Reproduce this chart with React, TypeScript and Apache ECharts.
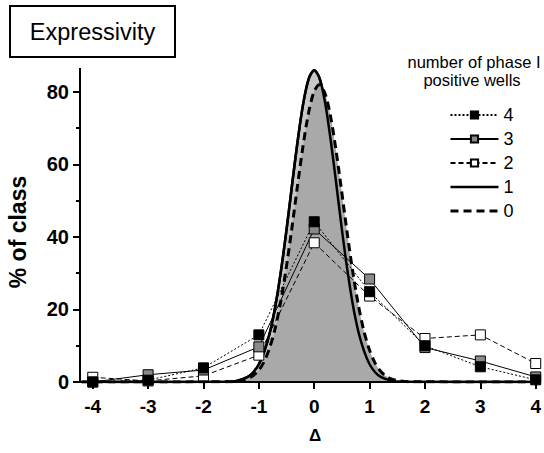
import React, { useEffect, useRef } from "react";
import * as echarts from "echarts";

const deltas = [-4, -3, -2, -1, 0, 1, 2, 3, 4];
const wells4 = [0, 0.5, 3.9, 13, 44.2, 24.9, 10, 4.2, 0.6];
const wells3 = [0, 2, 3.3, 9.7, 42.2, 28.4, 9.5, 5.8, 1.4];
const wells2 = [1.3, 0.3, 1.7, 7.4, 38.4, 23.7, 12, 13, 5.1];

const curve1X = [-4.2, -1.6, -1.4, -1.2, -1.1, -1.0, -0.9, -0.8, -0.7, -0.6, -0.5, -0.4, -0.3, -0.2, -0.1, 0, 0.1, 0.2, 0.3, 0.4, 0.5, 0.6, 0.7, 0.8, 0.9, 1.0, 1.1, 1.2, 1.4, 1.6, 4];
const curve1Y = [0, 0.06, 0.31, 1.4, 2.7, 4.9, 8.5, 13.7, 21.1, 30.7, 42, 54.4, 66.4, 76.7, 83.6, 86, 83.6, 76.7, 66.4, 54.4, 42, 30.7, 21.1, 13.7, 8.5, 4.9, 2.7, 1.4, 0.31, 0.06, 0];
const curve0X = [-4.2, -1.51, -1.31, -1.21, -1.11, -1.01, -0.91, -0.81, -0.71, -0.61, -0.51, -0.41, -0.31, -0.21, -0.11, -0.01, 0.09, 0.19, 0.29, 0.39, 0.49, 0.59, 0.69, 0.79, 0.89, 0.99, 1.09, 1.19, 1.29, 1.39, 1.49, 1.69, 4];
const curve0Y = [0, 0.08, 0.41, 0.85, 1.7, 3.1, 5.5, 9.2, 14.5, 21.8, 31.0, 41.7, 53.2, 64.3, 73.6, 79.8, 82, 79.8, 73.6, 64.3, 53.2, 41.7, 31.0, 21.8, 14.5, 9.2, 5.5, 3.1, 1.7, 0.85, 0.41, 0.08, 0];

const xTicks = [-4, -3, -2, -1, 0, 1, 2, 3, 4];
const yTicks = [0, 20, 40, 60, 80];
const yMinorTicks = [10, 30, 50, 70];

const X_MIN = -4.23;
const X_MAX = 4.05;
const Y_MIN = 0;
const Y_MAX = 86.6;

const FONT = "'Liberation Sans', Arial, Helvetica, sans-serif";

const zip = (xs: number[], ys: number[]) => xs.map((x, i) => [x, ys[i]]);

export default function App() {
  const ref = useRef<HTMLDivElement>(null);
  useEffect(() => {
    if (!ref.current) return;
    const chart = echarts.init(ref.current, undefined, { renderer: "svg" });
    const squareSeries = (name: string, ys: number[], fill: string, type: any) => ({
      name,
      type: "line",
      data: zip(deltas, ys),
      symbol: "rect",
      symbolSize: 10,
      z: 5,
      lineStyle: { color: "#000", width: 1, type },
      itemStyle: { color: fill, borderColor: "#000", borderWidth: 1 },
      emphasis: { disabled: true },
    });
    const curveSeries = (name: string, xs: number[], ys: number[], width: number, type: any, fill: string, z: number) => ({
      name,
      type: "line",
      data: zip(xs, ys),
      symbol: "none",
      smooth: 0.3,
      z,
      lineStyle: { color: "#000", width, type },
      itemStyle: { color: "#000" },
      areaStyle: { color: fill, opacity: 1 },
      emphasis: { disabled: true },
    });
    const curveLegend = (name: string, width: number, type: any) => ({
      name,
      itemStyle: { color: "rgba(0,0,0,0)", borderColor: "rgba(0,0,0,0)", borderWidth: 0 },
      lineStyle: { color: "#000", width, type, opacity: 1 },
    });
    const tickAxis = (values: number[], length: number) => ({
      type: "value",
      min: Y_MIN,
      max: Y_MAX,
      position: "left",
      axisLine: { show: false, onZero: false },
      axisTick: { show: true, customValues: values, length, lineStyle: { color: "#000", width: 2 } },
      axisLabel: { show: false },
      splitLine: { show: false },
    });
    chart.setOption({
      animation: false,
      backgroundColor: "#fff",
      grid: { left: 80, right: 4.5, top: 68, bottom: 71, containLabel: false },
      xAxis: {
        type: "value",
        min: X_MIN,
        max: X_MAX,
        axisLine: { show: true, onZero: false, lineStyle: { color: "#000", width: 2 } },
        axisTick: { show: true, customValues: xTicks, length: 7, lineStyle: { color: "#000", width: 2 } },
        axisLabel: {
          customValues: xTicks,
          margin: 15,
          color: "#000",
          fontSize: 19,
          fontWeight: "bold",
          fontFamily: FONT,
        },
        splitLine: { show: false },
      },
      yAxis: [
        {
          type: "value",
          min: Y_MIN,
          max: Y_MAX,
          position: "left",
          axisLine: { show: false, onZero: false },
          axisTick: { show: false },
          axisLabel: {
            customValues: yTicks,
            margin: 11,
            color: "#000",
            fontSize: 20,
            fontWeight: "bold",
            fontFamily: FONT,
          },
          splitLine: { show: false },
        },
        tickAxis(yTicks, 7),
        tickAxis(yMinorTicks, 4),
      ],
      legend: {
        data: [
          { name: "4" },
          { name: "3" },
          { name: "2" },
          curveLegend("1", 2.5, "solid"),
          curveLegend("0", 3, [8, 5]),
        ],
        orient: "vertical",
        left: 444,
        top: 101,
        itemWidth: 48,
        itemHeight: 9,
        itemGap: 6,
        selectedMode: false,
        textStyle: { color: "#000", fontSize: 18, lineHeight: 18, fontFamily: FONT },
      },
      series: [
        curveSeries("1", curve1X, curve1Y, 2.5, "solid", "#c8c8c8", 1),
        curveSeries("0", curve0X, curve0Y, 3, [8, 5], "#a9a9a9", 2),
        {
          name: "1-line",
          type: "line",
          data: zip(curve1X, curve1Y),
          symbol: "none",
          smooth: 0.3,
          z: 3,
          lineStyle: { color: "#000", width: 2.5, type: "solid" },
          emphasis: { disabled: true },
          markLine: {
            silent: true,
            symbol: "none",
            animation: false,
            label: { show: false },
            emphasis: { disabled: true },
            lineStyle: { color: "#000", width: 2, type: "solid" },
            data: [{ xAxis: X_MIN }, { yAxis: Y_MIN }],
          },
        },
        squareSeries("2", wells2, "#ffffff", [5, 3]),
        squareSeries("3", wells3, "#8a8a8a", "solid"),
        squareSeries("4", wells4, "#000000", [2, 2]),
      ],
      graphic: [
        {
          type: "rect",
          shape: { x: 10, y: 6, width: 165, height: 51 },
          style: { fill: "#fff", stroke: "#000", lineWidth: 2 },
        },
        {
          type: "text",
          x: 92.5,
          y: 31.5,
          style: { text: "Expressivity", fill: "#000", font: `23.5px ${FONT}`, align: "center", verticalAlign: "middle" },
        },
        {
          type: "text",
          x: 18,
          y: 232,
          rotation: Math.PI / 2,
          style: { text: "% of class", fill: "#000", font: `bold 23px ${FONT}`, align: "center", verticalAlign: "middle" },
        },
        {
          type: "text",
          x: 315,
          y: 435,
          style: { text: "Δ", fill: "#000", font: `bold 17px ${FONT}`, align: "center", verticalAlign: "middle" },
        },
        {
          type: "text",
          x: 474,
          y: 62,
          style: { text: "number of phase I", fill: "#000", font: `16.5px ${FONT}`, align: "center", verticalAlign: "middle" },
        },
        {
          type: "text",
          x: 472,
          y: 80,
          style: { text: "positive wells", fill: "#000", font: `16.5px ${FONT}`, align: "center", verticalAlign: "middle" },
        },
      ],
    });
    return () => chart.dispose();
  }, []);
  return <div ref={ref} style={{ width: 544, height: 453, position: "absolute", left: 0, top: 0 }} />;
}
